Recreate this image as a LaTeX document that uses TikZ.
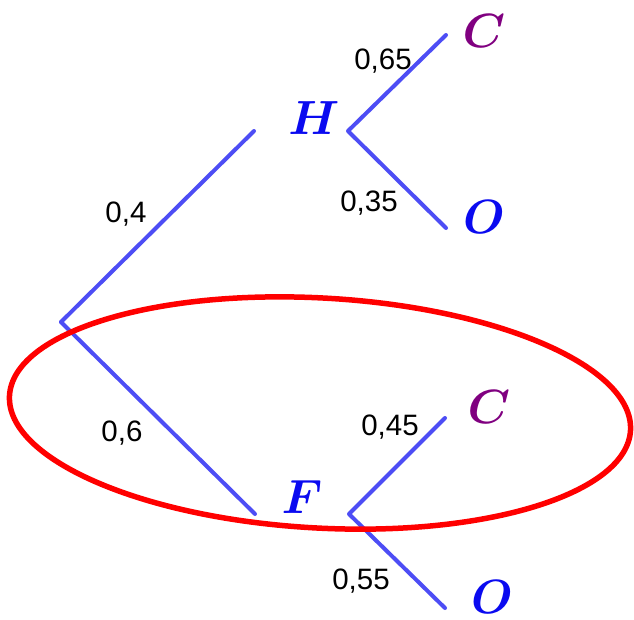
\documentclass[tikz,border=0pt]{standalone}
\usepackage{fontspec}
\newfontfamily\arialf{Liberation Sans}
\definecolor{lineblue}{HTML}{4D4DF5}
\definecolor{txtblue}{HTML}{0A0AF0}
\definecolor{txtpurple}{HTML}{800080}
\definecolor{ellred}{HTML}{FF0000}
\tikzset{
  branch/.style={draw=lineblue, line width=4pt, line cap=round, line join=round},
  prob/.style={font=\arialf\fontsize{29.5}{29.5}\selectfont, text=black, inner sep=0pt},
  ev/.style={font=\boldmath, scale=4.8, inner sep=0pt},
  evb/.style={ev, text=txtblue},
  evp/.style={ev, text=txtpurple},
}
\begin{document}
\begin{tikzpicture}[x=1pt,y=-1pt]
\useasboundingbox (0,0) rectangle (634,619);
\coordinate (root) at (61,322);
\coordinate (hin) at (254,131);
\coordinate (hj) at (348,131);
\coordinate (c1) at (446,35);
\coordinate (o1) at (446,228);
\coordinate (fin) at (255,514);
\coordinate (fj) at (349,514);
\coordinate (c2) at (445,418);
\coordinate (o2) at (445,608);

\draw[branch] (root) -- (hin);
\draw[branch] (root) -- (fin);
\draw[branch] (c1) -- (hj) -- (o1);
\draw[branch] (c2) -- (fj) -- (o2);

\node[evb] (H) at (314,118) {$H$};
\node[evb] (F) at (302,497) {$F$};
\node[evp] (C1) at (484,31) {$C$};
\node[evb] (O1) at (484,217) {$O$};
\node[evp] (C2) at (489,407) {$C$};
\node[evb] (O2) at (492,597) {$O$};

\node[prob] (p04) at (126,214) {0,4};
\node[prob] (p06) at (122,433) {0,6};
\node[prob] (p065) at (383,61) {0,65};
\node[prob] (p035) at (369,203) {0,35};
\node[prob] (p045) at (390,427) {0,45};
\node[prob] (p055) at (361,581) {0,55};

\draw[ellred, line width=5.5pt] (320,413) ellipse [x radius=311, y radius=115, rotate=-3.2];
\end{tikzpicture}
\end{document}
